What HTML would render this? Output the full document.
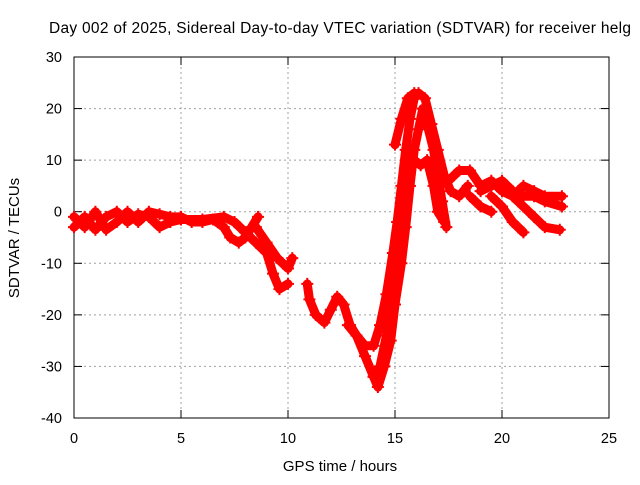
<!DOCTYPE html>
<html><head><meta charset="utf-8"><style>
body{margin:0;background:#fff}
text{font-family:"Liberation Sans",sans-serif;fill:#000}
</style></head><body>
<svg id="chart" width="640" height="480" viewBox="0 0 640 480">
<rect width="640" height="480" fill="#fff"/>
<text x="340" y="33" font-size="15.5" text-anchor="middle" textLength="582">Day 002 of 2025, Sidereal Day-to-day VTEC variation (SDTVAR) for receiver helg</text>
<g id="grid"></g>
<g id="axes"></g>
<g id="series"></g>
<text x="340" y="471" font-size="15" text-anchor="middle">GPS time / hours</text>
<text transform="translate(19,238) rotate(-90)" font-size="15" text-anchor="middle">SDTVAR / TECUs</text>
</svg>
<script>
const xTicks=[0,5,10,15,20,25];
const yTicks=[30,20,10,0,-10,-20,-30,-40];
const track1=[[0,-3],[0.5,-1],[1,-3.5],[1.5,-1],[2,0],[2.5,-2],[3,-0.5],[3.5,-1],[4,-3],[4.5,-2],[5,-1.5],[6,-1.5],[7,-1],[7.5,-2],[8,-4],[8.5,-6],[9,-8],[9.3,-12],[9.6,-15],[10,-14]];
const track2=[[0,-1],[0.5,-3],[1,0],[1.5,-3.5],[2,-2],[2.5,0],[3,-2],[3.5,0],[4,-0.5],[4.5,-1],[5,-1],[5.5,-2],[6,-2],[6.5,-1.5],[7,-3],[7.3,-5],[7.7,-6],[8,-5],[8.3,-3],[8.6,-1]];
const track3=[[8.5,-3],[9,-6],[9.5,-9],[10,-11],[10.2,-9]];
const track4=[[10.9,-14],[11,-17],[11.3,-20],[11.7,-21.5],[12,-19],[12.3,-16.5],[12.6,-18],[12.9,-22],[13.2,-24],[13.6,-28],[14,-32],[14.2,-34],[14.5,-30],[14.8,-25],[15,-18],[15.3,-10],[15.5,-3],[15.7,5],[15.9,12],[16.1,16],[16.3,20],[16.5,17],[16.8,12],[17,7],[17.2,2],[17.4,-3]];
const track5=[[12.8,-22],[13.2,-24],[13.6,-26],[14,-26],[14.3,-22],[14.6,-16],[14.9,-8],[15.1,-2],[15.3,5],[15.5,12],[15.7,18],[15.9,22],[16.1,23],[16.4,22],[16.7,17],[17,12],[17.3,7],[17.6,4],[18,3],[18.4,5]];
const track6=[[14,-32],[14.3,-30],[14.6,-24],[14.9,-15],[15.1,-10],[15.3,-2],[15.6,6],[15.9,10],[16.2,9],[16.5,10],[16.8,5],[17,0],[17.3,-2]];
const track7=[[15,13],[15.3,18],[15.6,22],[15.9,23]];
const track8=[[17.5,6],[18,8],[18.5,8],[19,5],[19.5,6],[20,4],[20.5,3],[21,5],[21.5,4],[22,3],[22.8,3]];
const track9=[[19,4],[19.5,5],[20,6],[20.5,4],[21,3],[21.5,3],[22,2],[22.8,1]];
const track10=[[18.5,3],[19,1],[19.5,0]];
const track11=[[19.5,3],[20,1],[20.5,-2],[21,-4]];
const track12=[[20.5,3],[21,1],[21.5,-1],[22,-3],[22.7,-3.5]];
const tracks=[track1,track2,track3,track4,track5,track6,track7,track8,track9,track10,track11,track12];
const NS='http://www.w3.org/2000/svg';
const X0=74,X1=609,Y0=57,Y1=418;
function px(t){return X0+(t-0)/(25-0)*(X1-X0);}
function py(v){return Y0+(30-v)/(30-(-40))*(Y1-Y0);}
function mk(tag,attrs,parent){const e=document.createElementNS(NS,tag);for(const k in attrs)e.setAttribute(k,attrs[k]);parent.appendChild(e);return e;}
const grid=document.getElementById('grid'),axes=document.getElementById('axes'),ser=document.getElementById('series');
xTicks.forEach(t=>{
  const x=px(t);
  if(t>0&&t<25){const l=mk('line',{x1:x,y1:Y0,x2:x,y2:Y1,stroke:'#a0a0a0','stroke-dasharray':'2,3'},grid);
  
  }
  mk('line',{x1:x,y1:Y1,x2:x,y2:Y1-8,stroke:'#000'},axes);
  mk('line',{x1:x,y1:Y0,x2:x,y2:Y0+8,stroke:'#000'},axes);
  const tx=mk('text',{x:x,y:Y1+25,'font-size':'14.5','text-anchor':'middle'},axes);tx.textContent=t;
  
  
});
yTicks.forEach(v=>{
  const y=py(v);
  if(v<30&&v>-40){const l=mk('line',{x1:X0,y1:y,x2:X1,y2:y,stroke:'#a0a0a0','stroke-dasharray':'2,3'},grid);
  
  }
  mk('line',{x1:X0,y1:y,x2:X0+8,y2:y,stroke:'#000'},axes);
  mk('line',{x1:X1,y1:y,x2:X1-8,y2:y,stroke:'#000'},axes);
  const tx=mk('text',{x:X0-12,y:y+5,'font-size':'14.5','text-anchor':'end'},axes);tx.textContent=v;
  
  
});
mk('rect',{x:X0,y:Y0,width:X1-X0,height:Y1-Y0,fill:'none',stroke:'#000'},axes);
tracks.forEach(tr=>{
  const pl=mk('polyline',{points:tr.map(p=>px(p[0])+','+py(p[1])).join(' '),fill:'none',stroke:'#f00','stroke-width':'9','stroke-linejoin':'round','stroke-linecap':'round'},ser);
  
  
  tr.forEach(p=>{
    const x=px(p[0]),y=py(p[1]);
    const m=mk('path',{d:`M${x-6},${y}H${x+6}M${x},${y-6}V${y+6}`,stroke:'#f00','stroke-width':'2'},ser);
    
    
  });
});
</script>
</body></html>
